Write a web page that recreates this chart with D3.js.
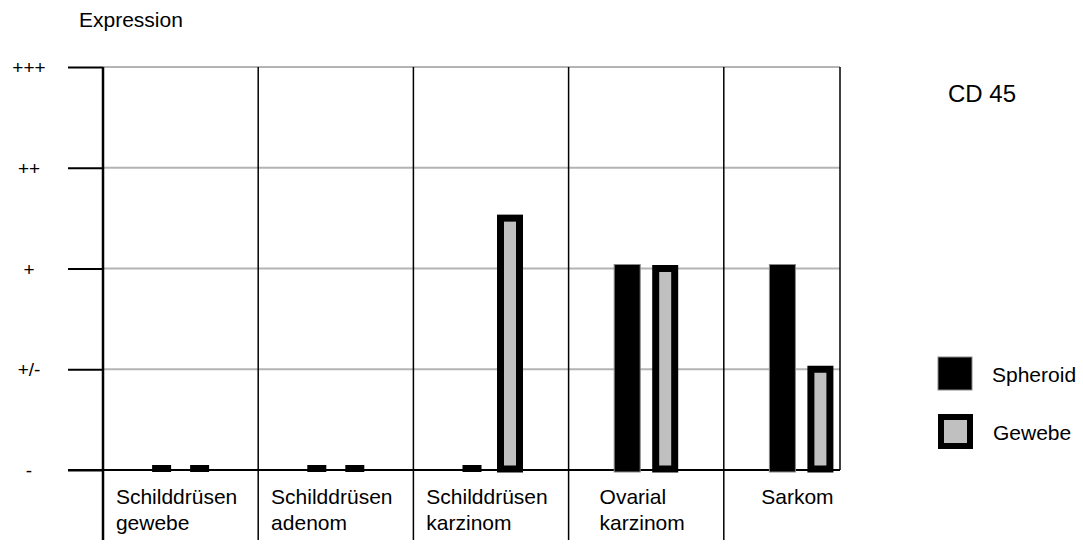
<!DOCTYPE html>
<html>
<head>
<meta charset="utf-8">
<script src="https://cdn.jsdelivr.net/npm/d3@7"></script>
<style>
  body { margin: 0; background: #fff; }
  svg { display: block; font-family: "Liberation Sans", Arial, sans-serif; }
</style>
</head>
<body>
<div id="chart"></div>
<script>
// CD 45 expression, spheroid vs tissue

const CATEGORIES = [
    ["Schilddrüsen", "gewebe"],
    ["Schilddrüsen", "adenom"],
    ["Schilddrüsen", "karzinom"],
    ["Ovarial", "karzinom"],
    ["Sarkom"]
];
const SERIES = ["Spheroid", "Gewebe"];
const SPHEROID = [0, 0, 0, 2, 2];
const GEWEBE = [0, 0, 2.5, 2, 1];
const Y_LABELS = ["-", "+/-", "+", "++", "+++"];

const W = 1083, H = 546;
const plot = { left: 103, right: 840, top: 67, bottom: 470 };

const svg = d3.select("#chart").append("svg")
    .attr("width", W)
    .attr("height", H);

const catKeys = CATEGORIES.map((c, i) => i);

// category band (last band is cut off by the frame on the right)
const x = d3.scaleBand()
    .domain(catKeys)
    .range([plot.left, 879]);

const xSub = d3.scalePoint()
    .domain(SERIES)
    .range([-19, 19]);

const y = d3.scaleLinear()
    .domain([0, Y_LABELS.length - 1])
    .range([plot.bottom, plot.top]);

// grid lines
svg.append("g")
    .selectAll("line")
    .data(d3.range(1, Y_LABELS.length))
    .enter().append("line")
    .attr("x1", plot.left).attr("x2", plot.right)
    .attr("y1", d => y(d)).attr("y2", d => y(d))
    .attr("stroke", "#b4b4b4")
    .attr("stroke-width", 2);

// y axis with ticks and labels
const yAxis = svg.append("g")
    .attr("transform", `translate(${plot.left},0)`)
    .call(d3.axisLeft(y)
        .tickValues(d3.range(Y_LABELS.length))
        .tickSize(35)
        .tickPadding(0)
        .tickFormat(d => Y_LABELS[d]));
yAxis.select(".domain").remove();
yAxis.selectAll(".tick line").attr("stroke", "#000").attr("stroke-width", 2);
yAxis.selectAll(".tick text")
    .attr("x", 29 - plot.left)
    .attr("text-anchor", "middle")
    .attr("dy", "0.35em")
    .style("font-size", "19px")
    .style("fill", "#000");

// category separators
svg.append("g")
    .selectAll("line")
    .data(catKeys)
    .enter().append("line")
    .attr("x1", d => x(d)).attr("x2", d => x(d))
    .attr("y1", plot.top).attr("y2", 540)
    .attr("stroke", "#000")
    .attr("stroke-width", d => d === 0 ? 2.5 : 1.5);

// right border
svg.append("line")
    .attr("x1", plot.right).attr("x2", plot.right)
    .attr("y1", plot.top).attr("y2", plot.bottom)
    .attr("stroke", "#000")
    .attr("stroke-width", 1.5);

// baseline
svg.append("line")
    .attr("x1", 68).attr("x2", plot.right)
    .attr("y1", plot.bottom).attr("y2", plot.bottom)
    .attr("stroke", "#000")
    .attr("stroke-width", 2);

// bars
const cx = (i, s) => x(i) + x.bandwidth() / 2 + xSub(s);

const bars = svg.append("g");
CATEGORIES.forEach((c, i) => {
    const sv = SPHEROID[i], gv = GEWEBE[i];

    if (sv > 0) {
        bars.append("rect")
            .attr("x", cx(i, "Spheroid") - 13)
            .attr("y", y(sv) - 4)
            .attr("width", 26)
            .attr("height", y(0) - y(sv) + 6)
            .attr("fill", "#000")
            .attr("stroke", "#888")
            .attr("stroke-width", 1);
    } else {
        bars.append("rect")
            .attr("x", cx(i, "Spheroid") - 9.5)
            .attr("y", y(0) - 5)
            .attr("width", 19)
            .attr("height", 7)
            .attr("fill", "#000");
    }

    if (gv > 0) {
        bars.append("rect")
            .attr("x", cx(i, "Gewebe") - 9.5)
            .attr("y", y(gv))
            .attr("width", 19)
            .attr("height", y(0) - y(gv) - 1)
            .attr("fill", "#c0c0c0")
            .attr("stroke", "#000")
            .attr("stroke-width", 7);
    } else {
        bars.append("rect")
            .attr("x", cx(i, "Gewebe") - 9.5)
            .attr("y", y(0) - 5)
            .attr("width", 19)
            .attr("height", 7)
            .attr("fill", "#000");
    }
});

// category labels (left aligned block, centered in band)
CATEGORIES.forEach((lines, i) => {
    const t = svg.append("text")
        .style("font-size", "21px")
        .style("fill", "#000");
    lines.forEach((ln, k) => {
        t.append("tspan")
            .attr("y", 504 + k * 26)
            .text(ln);
    });
    let maxW = 0;
    t.selectAll("tspan").each(function () {
        maxW = Math.max(maxW, this.getComputedTextLength());
    });
    const x0 = x(i) + x.bandwidth() / 2 - maxW / 2 - 4;
    t.selectAll("tspan").attr("x", x0);
});

// axis title
svg.append("text")
    .attr("x", 79).attr("y", 27)
    .style("font-size", "21px")
    .text("Expression");

// chart title
svg.append("text")
    .attr("x", 948).attr("y", 102)
    .style("font-size", "24px")
    .text("CD 45");

// legend
const legend = svg.append("g");
legend.append("rect")
    .attr("x", 938).attr("y", 357)
    .attr("width", 34).attr("height", 33)
    .attr("fill", "#000")
    .attr("stroke", "#888")
    .attr("stroke-width", 1);
legend.append("text")
    .attr("x", 992).attr("y", 382)
    .style("font-size", "21px")
    .text(SERIES[0]);
legend.append("rect")
    .attr("x", 941).attr("y", 417)
    .attr("width", 29).attr("height", 29)
    .attr("fill", "#c0c0c0")
    .attr("stroke", "#000")
    .attr("stroke-width", 6);
legend.append("text")
    .attr("x", 993).attr("y", 440)
    .style("font-size", "21px")
    .text(SERIES[1]);
</script>
</body>
</html>
